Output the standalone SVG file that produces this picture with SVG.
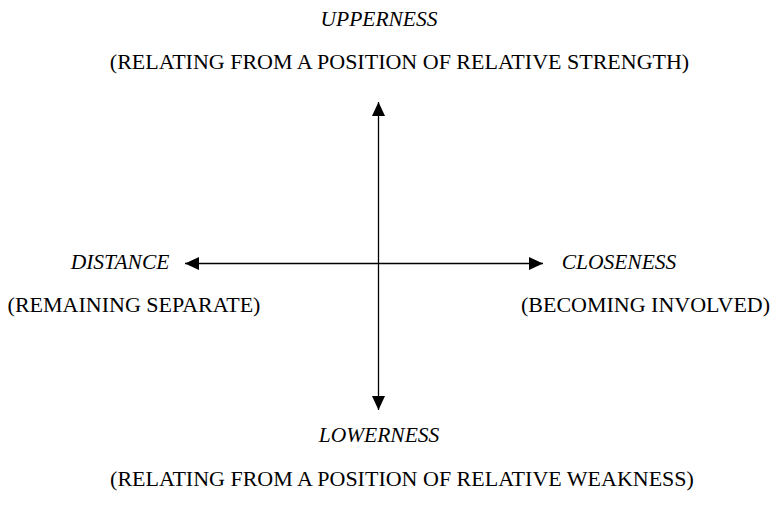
<svg xmlns="http://www.w3.org/2000/svg" width="770" height="518" viewBox="0 0 770 518">
<style>
text{font-family:"Liberation Serif","Times New Roman",serif;font-size:22px;fill:#000}
.it{font-style:italic;font-size:21.5px}
.ax{stroke:#000;stroke-width:1.3;fill:none}
</style>
<defs>
<marker id="ah" markerUnits="userSpaceOnUse" markerWidth="14" markerHeight="14" refX="14" refY="7" orient="auto-start-reverse" viewBox="0 0 14 14">
<path d="M0,0.5 L14,7 L0,13.5 z" fill="#000"/>
</marker>
</defs>
<rect width="770" height="518" fill="#fff"/>
<g id="connectors">
<line class="ax" x1="378.5" y1="102" x2="378.5" y2="410" marker-start="url(#ah)" marker-end="url(#ah)"/>
<line class="ax" x1="185" y1="263.5" x2="543" y2="263.5" marker-start="url(#ah)" marker-end="url(#ah)"/>
</g>
<g id="upper">
<text class="it" x="379" y="26" text-anchor="middle">UPPERNESS</text>
<text x="399.5" y="69" text-anchor="middle">(RELATING FROM A POSITION OF RELATIVE STRENGTH)</text>
</g>
<g id="distance">
<text class="it" x="120" y="269" text-anchor="middle">DISTANCE</text>
<text x="134" y="312" text-anchor="middle">(REMAINING SEPARATE)</text>
</g>
<g id="closeness">
<text class="it" x="619" y="269" text-anchor="middle">CLOSENESS</text>
<text x="645.5" y="312" text-anchor="middle">(BECOMING INVOLVED)</text>
</g>
<g id="lower">
<text class="it" x="379" y="442" text-anchor="middle">LOWERNESS</text>
<text x="402" y="486" text-anchor="middle">(RELATING FROM A POSITION OF RELATIVE WEAKNESS)</text>
</g>
</svg>
